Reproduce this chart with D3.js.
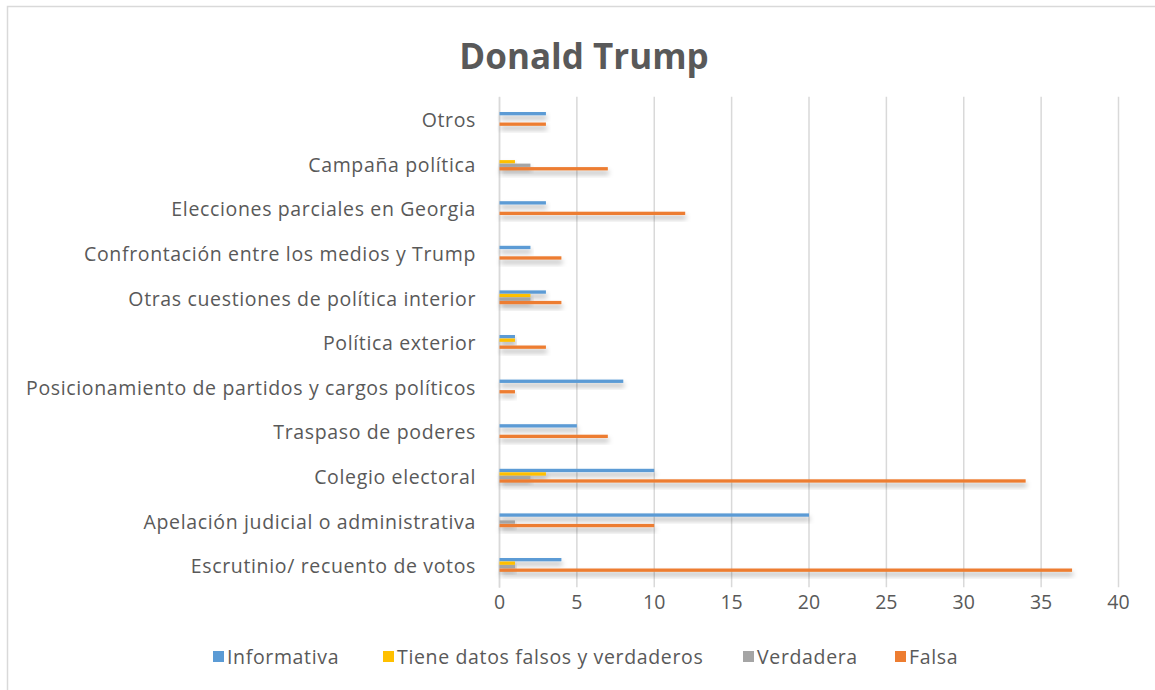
<!DOCTYPE html>
<html>
<head>
<meta charset="utf-8">
<script src="https://cdn.jsdelivr.net/npm/d3@7/dist/d3.min.js"></script>
<style>
  html, body { margin: 0; padding: 0; background: #fff; }
  svg { display: block; }
</style>
</head>
<body>
<svg id="chart" width="1155" height="690"></svg>
<script>
// Topics, bottom to top as listed on the axis
const categories = [
  "Escrutinio/ recuento de votos",
  "Apelación judicial o administrativa",
  "Colegio electoral",
  "Traspaso de poderes",
  "Posicionamiento de partidos y cargos políticos",
  "Política exterior",
  "Otras cuestiones de política interior",
  "Confrontación entre los medios y Trump",
  "Elecciones parciales en Georgia",
  "Campaña política",
  "Otros"
];

const seriesNames = ["Informativa", "Tiene datos falsos y verdaderos", "Verdadera", "Falsa"];
const seriesColors = ["#5B9BD5", "#FFC000", "#A5A5A5", "#ED7D31"];

// Values per topic, same order as categories
const informativa = [4, 20, 10, 5, 8, 1, 3, 2, 3, 0, 3];
const mixta       = [1, 0, 3, 0, 0, 1, 2, 0, 0, 1, 0];
const verdadera   = [1, 1, 2, 0, 0, 0, 2, 0, 0, 2, 0];
const falsa       = [37, 10, 34, 7, 1, 3, 4, 4, 12, 7, 3];

const xTicks = [0, 5, 10, 15, 20, 25, 30, 35, 40];
const chartTitle = "Donald Trump";

const seriesValues = [informativa, mixta, verdadera, falsa];

const svg = d3.select("#chart");
const W = 1155, H = 690;
const textColor = "#595959";
const gridColor = "#D9D9D9";
const font = "'Open Sans', sans-serif";
const labelSize = 19.5;
const labelSpacing = "0.65px";

// outer frame of the chart area
svg.append("rect")
  .attr("x", 7.5).attr("y", 6.5)
  .attr("width", W + 20).attr("height", H + 20)
  .attr("fill", "#fff")
  .attr("stroke", gridColor).attr("stroke-width", 1.5);

const defs = svg.append("defs");
const shadow = defs.append("filter").attr("id", "barShadow")
  .attr("x", "-5%").attr("y", "-100%").attr("width", "115%").attr("height", "400%");
shadow.append("feDropShadow")
  .attr("dx", 1).attr("dy", 4).attr("stdDeviation", 2.4)
  .attr("flood-color", "#000").attr("flood-opacity", 0.3);

const plot = { left: 499, right: 1118, top: 96.7, bottom: 587.3 };

const x = d3.scaleLinear().domain([0, 40]).range([plot.left, plot.right]);
const y = d3.scaleBand().domain(categories.slice().reverse())
  .range([plot.top, plot.bottom]).paddingInner(0.686).paddingOuter(0.343);
const ySub = d3.scaleBand().domain(seriesNames).range([0, y.bandwidth()]).padding(0);

// vertical gridlines from the value axis
const xAxis = d3.axisBottom(x).tickValues(xTicks)
  .tickSize(-(plot.bottom - plot.top)).tickPadding(8).tickFormat(d3.format("d"));
const gx = svg.append("g")
  .attr("transform", `translate(0,${plot.bottom})`)
  .call(xAxis);
gx.select(".domain").remove();
gx.selectAll(".tick line").attr("stroke", gridColor).attr("stroke-width", 1.5);
gx.selectAll(".tick text")
  .attr("fill", textColor).attr("font-family", font).attr("font-size", labelSize)
  .attr("dy", "0.72em");

// category axis
const yAxis = d3.axisLeft(y).tickSize(0).tickPadding(23);
const gy = svg.append("g").attr("transform", `translate(${plot.left},0)`).call(yAxis);
gy.select(".domain").attr("stroke", gridColor).attr("stroke-width", 1.5);
gy.selectAll(".tick text")
  .attr("fill", textColor).attr("font-family", font).attr("font-size", labelSize)
  .attr("letter-spacing", labelSpacing)
  .attr("dy", "0.42em");

// bars
const groups = svg.append("g").selectAll("g")
  .data(categories)
  .join("g")
  .attr("transform", c => `translate(0,${y(c)})`);

groups.selectAll("rect")
  .data((c, i) => seriesNames.map((s, k) => ({ s, k, v: seriesValues[k][i] })).filter(d => d.v > 0))
  .join("rect")
  .attr("x", x(0) + 0.5)
  .attr("y", d => ySub(d.s))
  .attr("width", d => x(d.v) - x(0))
  .attr("height", ySub.bandwidth() * 0.95)
  .attr("fill", d => seriesColors[d.k])
  .attr("filter", "url(#barShadow)");

// title
svg.append("text")
  .attr("x", 584).attr("y", 69)
  .attr("text-anchor", "middle")
  .attr("fill", textColor).attr("font-family", font)
  .attr("font-size", 35).attr("font-weight", "bold")
  .text(chartTitle);

// legend
const legendX = [213, 383, 743, 895];
const legend = svg.append("g").selectAll("g")
  .data(seriesNames)
  .join("g")
  .attr("transform", (d, i) => `translate(${legendX[i]},657)`);
legend.append("rect")
  .attr("x", 0).attr("y", -6).attr("width", 11).attr("height", 11)
  .attr("fill", (d, i) => seriesColors[i]);
legend.append("text")
  .attr("x", 14).attr("y", 0).attr("dy", "0.35em")
  .attr("fill", textColor).attr("font-family", font).attr("font-size", labelSize)
  .attr("letter-spacing", labelSpacing)
  .text(d => d);
</script>
</body>
</html>
